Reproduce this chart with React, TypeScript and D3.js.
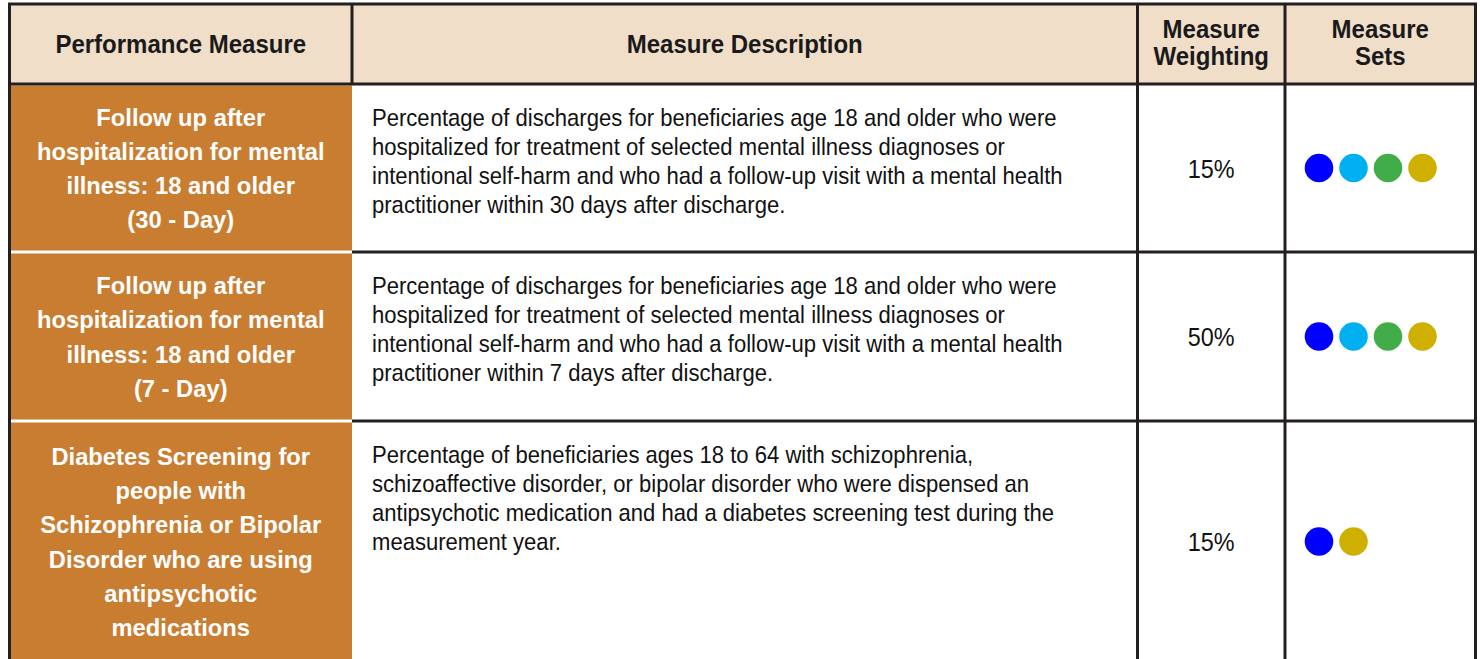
import React from 'react';
import * as d3 from 'd3';

const headers = [['Performance Measure'], ['Measure Description'], ['Measure', 'Weighting'], ['Measure', 'Sets']];

const measureNames = [
  ['Follow up after', 'hospitalization for mental', 'illness: 18 and older', '(30 - Day)'],
  ['Follow up after', 'hospitalization for mental', 'illness: 18 and older', '(7 - Day)'],
  ['Diabetes Screening for', 'people with', 'Schizophrenia or Bipolar', 'Disorder who are using', 'antipsychotic', 'medications'],
];

const descriptions = [
  [
    'Percentage of discharges for beneficiaries age 18 and older who were',
    'hospitalized for treatment of selected mental illness diagnoses or',
    'intentional self-harm and who had a follow-up visit with a mental health',
    'practitioner within 30 days after discharge.',
  ],
  [
    'Percentage of discharges for beneficiaries age 18 and older who were',
    'hospitalized for treatment of selected mental illness diagnoses or',
    'intentional self-harm and who had a follow-up visit with a mental health',
    'practitioner within 7 days after discharge.',
  ],
  [
    'Percentage of beneficiaries ages 18 to 64 with schizophrenia,',
    'schizoaffective disorder, or bipolar disorder who were dispensed an',
    'antipsychotic medication and had a diabetes screening test during the',
    'measurement year.',
  ],
];

const weightings = ['15%', '50%', '15%'];

const setColors = ['#0000ff', '#00b0f0', '#41ad49', '#cfb000'];
const measureSets = [[0, 1, 2, 3], [0, 1, 2, 3], [0, 3]];

const FONT = "'Liberation Sans', Arial, sans-serif";
const LINE = '#231f20';

// text block squeezed horizontally around its anchor x (imitates Arial Narrow)
function Narrow({ x, ys, lines, sx, anchor = 'start', ...rest }: any) {
  return (
    <g transform={`translate(${x},0) scale(${sx},1)`}>
      <text textAnchor={anchor} {...rest}>
        {lines.map((l: string, j: number) => (
          <tspan key={j} x={0} y={ys[j]}>{l}</tspan>
        ))}
      </text>
    </g>
  );
}

export default function App() {
  const width = 1480;
  const height = 659;

  const colEdges = [9.5, 352, 1137.5, 1285, 1475.5];
  const rowEdges = [4, 84, 252, 421, 662];

  const dotX = d3.scaleLinear().domain([0, 1]).range([colEdges[3] + 34, colEdges[3] + 68.5]);

  return (
    <div style={{ position: 'fixed', left: 0, top: 0 }}>
      <svg width={width} height={height} style={{ display: 'block', background: '#fff' }} fontFamily={FONT}>
        <rect x={colEdges[0]} y={rowEdges[0]} width={colEdges[4] - colEdges[0]} height={rowEdges[1] - rowEdges[0]} fill="#f0dec9" />
        {headers.map((lines, i) => {
          const cx = (colEdges[i] + colEdges[i + 1]) / 2;
          const y0 = lines.length === 1 ? 53 : 38;
          return (
            <Narrow key={i} x={cx} anchor="middle" lines={lines} ys={lines.map((_, j) => y0 + j * 27)}
              sx={0.96} fontWeight="bold" fontSize={25} fill="#1a1a1a" />
          );
        })}

        {measureNames.map((lines, r) => {
          const top = rowEdges[r + 1];
          const bottom = rowEdges[r + 2];
          const mid = (top + bottom) / 2;
          const lh = 34.3;
          const firstBase = mid - ((lines.length - 1) * lh) / 2 + 9;
          const cx = (colEdges[0] + colEdges[1]) / 2;
          return (
            <g key={r}>
              <rect x={colEdges[0] + 1.5} y={top + 1.5} width={colEdges[1] - colEdges[0] - 1.5} height={bottom - top - 3} fill="#c97d31" />
              <Narrow x={cx} anchor="middle" lines={lines} ys={lines.map((_, j) => firstBase + j * lh)}
                sx={0.97} fontWeight="bold" fontSize={24.5} fill="#fff" />
              <Narrow x={colEdges[1] + 20} lines={descriptions[r]} ys={descriptions[r].map((_, j) => top + 42 + j * 29)}
                sx={0.92} fontSize={24} fill="#111" />
              <Narrow x={(colEdges[2] + colEdges[3]) / 2} anchor="middle" lines={[weightings[r]]} ys={[mid + 10]}
                sx={0.9} fontSize={26} fill="#111" />
              {measureSets[r].map((s, k) => (
                <circle key={k} cx={dotX(k)} cy={mid} r={14.3} fill={setColors[s]} />
              ))}
            </g>
          );
        })}

        <g stroke={LINE} strokeWidth={3} fill="none">
          <line x1={colEdges[0] - 1.5} x2={colEdges[4] + 1.5} y1={rowEdges[0]} y2={rowEdges[0]} />
          <line x1={colEdges[0]} x2={colEdges[4]} y1={rowEdges[1]} y2={rowEdges[1]} />
          {rowEdges.slice(2, 4).map((y, i) => (
            <line key={i} x1={colEdges[1]} x2={colEdges[4]} y1={y} y2={y} />
          ))}
          <line x1={colEdges[0]} x2={colEdges[0]} y1={rowEdges[0]} y2={height} />
          <line x1={colEdges[4]} x2={colEdges[4]} y1={rowEdges[0]} y2={height} />
          <line x1={colEdges[1]} x2={colEdges[1]} y1={rowEdges[0]} y2={rowEdges[1]} />
          {colEdges.slice(2, 4).map((x, i) => (
            <line key={i} x1={x} x2={x} y1={rowEdges[0]} y2={height} />
          ))}
        </g>
      </svg>
    </div>
  );
}
